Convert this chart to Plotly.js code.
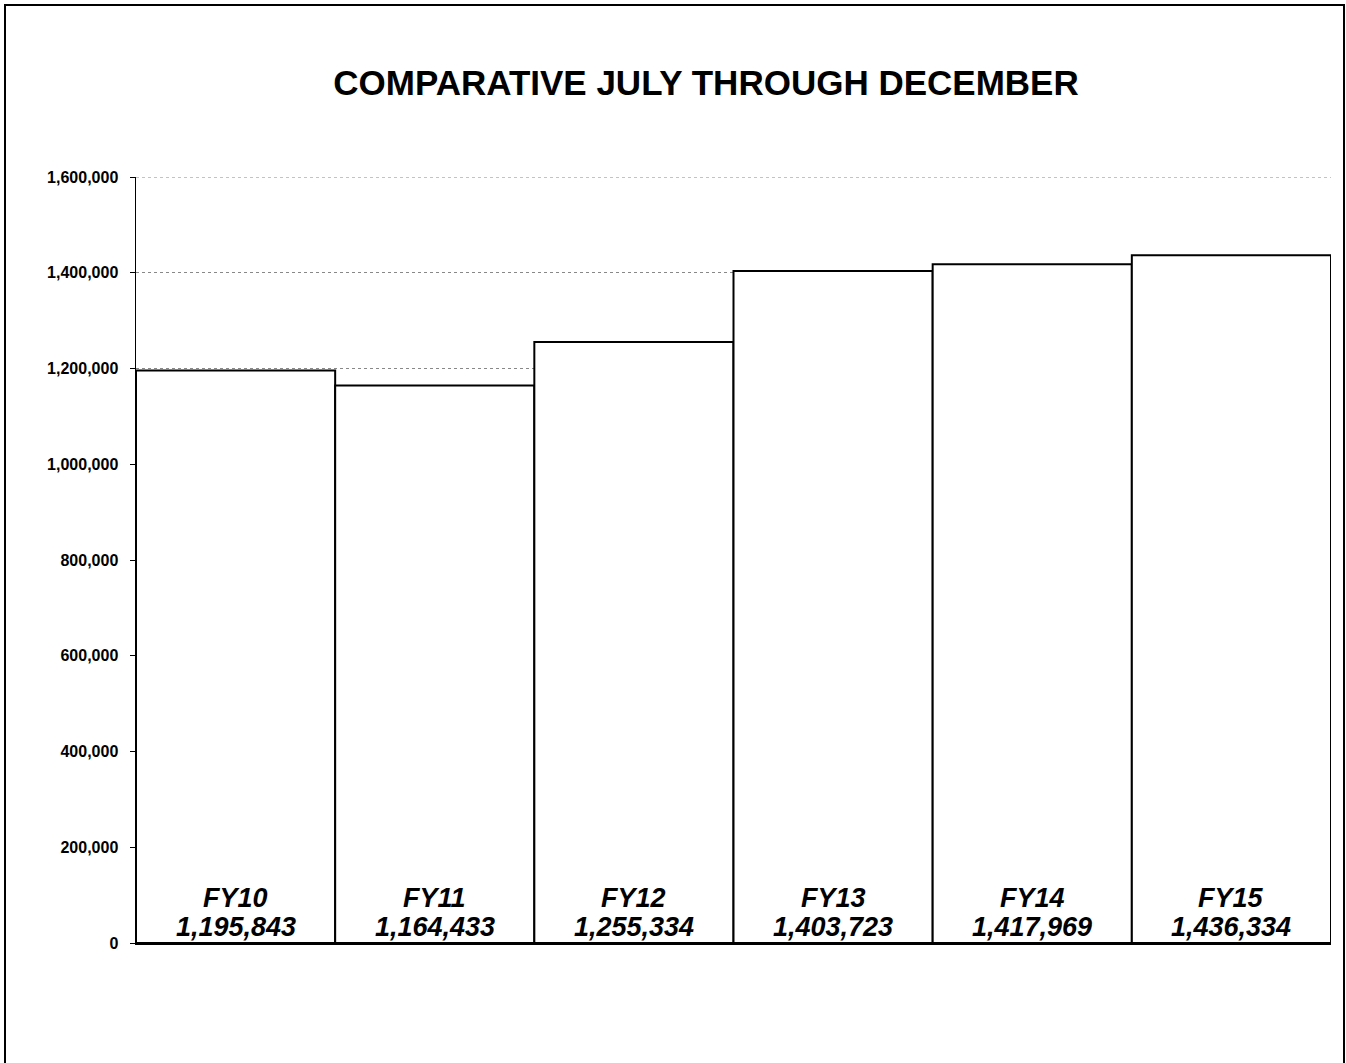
<!DOCTYPE html>
<html><head><meta charset="utf-8">
<script src="https://cdn.plot.ly/plotly-3.0.1.min.js"></script>
<style>
html,body{margin:0;padding:0;background:#fff;overflow:hidden;}
#frame{position:absolute;left:4px;top:4px;width:1337px;height:1080px;border:2px solid #000;border-bottom:none;pointer-events:none;z-index:5;}
#chart{position:absolute;left:0;top:0;width:1346px;height:1063px;}
</style></head>
<body>
<div id="chart"></div>
<div id="frame"></div>
<script>
const categories = ["FY10","FY11","FY12","FY13","FY14","FY15"];
const values = [1195843,1164433,1255334,1403723,1417969,1436334];
const yTickValues = [0,200000,400000,600000,800000,1000000,1200000,1400000,1600000];

const FONT = "Arial, 'Liberation Sans', sans-serif";
const labelFont = {family: FONT, size: 27, color: "#000", weight: "bold", style: "italic"};

const trace = {
  type: "bar",
  x: categories,
  y: values,
  marker: {color: "#ffffff", line: {color: "#000", width: 2}},
  hoverinfo: "none"
};

const annotations = [];
categories.forEach((c, i) => {
  annotations.push({x: c, y: 0, xref: "x", yref: "y", text: values[i].toLocaleString("en-US"), showarrow: false,
    xanchor: "center", yanchor: "bottom", yshift: -1, font: labelFont});
  annotations.push({x: c, y: 0, xref: "x", yref: "y", text: c, showarrow: false,
    xanchor: "center", yanchor: "bottom", yshift: 28, font: labelFont});
});

const layout = {
  width: 1346, height: 1063,
  paper_bgcolor: "#fff", plot_bgcolor: "#fff",
  margin: {l: 136, r: 15, t: 177, b: 120},
  showlegend: false,
  bargap: 0,
  title: {text: "COMPARATIVE JULY THROUGH DECEMBER", x: 0.5245, xanchor: "center", y: 0.922, yanchor: "middle",
    font: {family: FONT, size: 35, color: "#000", weight: "bold"}},
  xaxis: {showticklabels: false, showgrid: false, zeroline: false, showline: true, linecolor: "#000", linewidth: 2,
    ticks: "", fixedrange: true},
  yaxis: {range: [0, 1600000], tickvals: yTickValues, tickformat: ",d", ticks: "outside", ticklen: 5, tickcolor: "#000",
    showline: true, linecolor: "#000", linewidth: 1.5, showgrid: true, gridcolor: "#888", griddash: "dot", gridwidth: 1,
    zeroline: false, ticklabelstandoff: 8,
    tickfont: {family: FONT, size: 16, color: "#000", weight: "bold"}, fixedrange: true},
  shapes: [{type: "line", xref: "paper", x0: 0, x1: 1, yref: "y", y0: 1600000, y1: 1600000,
    line: {color: "#888", width: 1, dash: "dot"}, layer: "below"}],
  annotations: annotations
};

Plotly.newPlot("chart", [trace], layout, {displayModeBar: false, staticPlot: true});
</script>
</body></html>
